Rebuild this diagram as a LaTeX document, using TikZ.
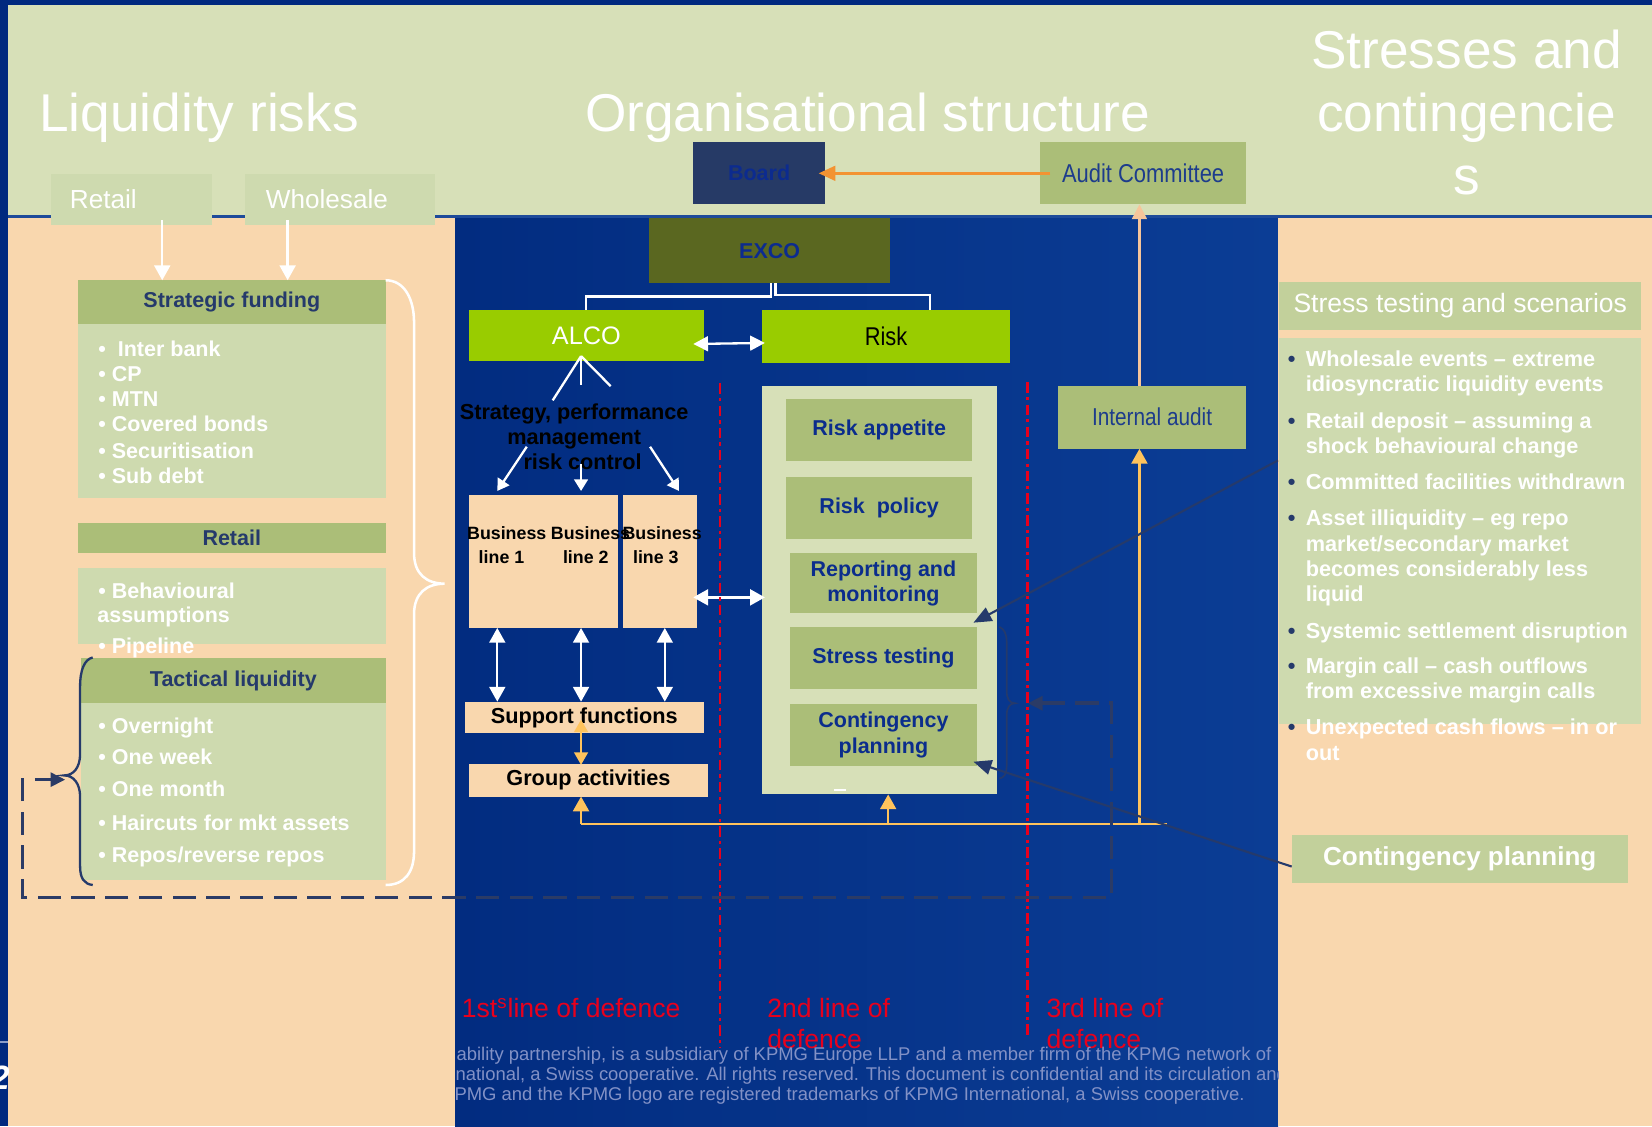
\documentclass[tikz,border=0pt]{standalone}
\usepackage{fontspec}
\setmainfont{Liberation Sans}
\newfontfamily\condf[FakeStretch=0.85]{Liberation Sans}
\usetikzlibrary{arrows.meta,calc}
\definecolor{frameblue}{HTML}{00297F}
\definecolor{midL}{HTML}{022C80}
\definecolor{midR}{HTML}{0B3D95}
\definecolor{sepblue}{HTML}{1E4B9A}
\definecolor{stripline}{HTML}{8A9CC8}
\definecolor{sage}{HTML}{D7E0B8}
\definecolor{sage2}{HTML}{CEDAAF}
\definecolor{sage3}{HTML}{C2D09B}
\definecolor{olivebox}{HTML}{ABBE78}
\definecolor{peach}{HTML}{F9D7AE}
\definecolor{lime}{HTML}{99CC00}
\definecolor{excoc}{HTML}{5A6720}
\definecolor{boardc}{HTML}{263A66}
\definecolor{boardtxt}{HTML}{0C2B8F}
\definecolor{actxt}{HTML}{1D3C8C}
\definecolor{navy}{HTML}{253A6B}
\definecolor{dkblue}{HTML}{0B2D8C}
\definecolor{orangeA}{HTML}{F39332}
\definecolor{yel}{HTML}{FFC35C}
\definecolor{peachline}{HTML}{F7C59A}
\definecolor{redc}{HTML}{E8001C}
\definecolor{foot}{HTML}{8291C6}
\definecolor{dashc}{HTML}{2B3B66}
\newcommand\bxn[7]{\node[box,#2, minimum width={(#5-#3)*0.5pt}, minimum height={(#6-#4)*0.5pt}] (#1) at ({(#3+#5)/2},{(#4+#6)/2}) {#7};}
\newcommand\tx[4]{\node[#2] (#1) at (#3) {#4};}
\tikzset{
  box/.style={inner sep=0pt, outer sep=0pt, align=center},
  wl/.style={draw=white, line width=1.1pt},
  wa/.style={wl, -{Triangle[length=7pt,width=7.5pt]}},
  wsa/.style={wl, -{Triangle[length=5.5pt,width=6.5pt]}},
  wda/.style={wl, {Triangle[length=7pt,width=7.5pt]}-{Triangle[length=7pt,width=7.5pt]}},
  ol/.style={draw=yel, line width=1.2pt},
  oa/.style={ol, -{Triangle[length=7pt,width=7.5pt]}},
  oda/.style={ol, {Triangle[length=6pt,width=6.5pt]}-{Triangle[length=6pt,width=6.5pt]}},
  na/.style={draw=navy, line width=1pt, -{Triangle[length=8.5pt,width=7pt]}},
  brn/.style={draw=navy, line width=1.1pt},
  dsh/.style={draw=dashc, line width=1.7pt, dash pattern=on 11pt off 5pt, {Triangle[length=7pt,width=6.5pt]}-{Triangle[length=7pt,width=6.5pt]}},
  redl/.style={draw=redc, line width=1.2pt, dash pattern=on 5pt off 2pt on 1.5pt off 2pt},
  ttl/.style={inner sep=0pt, text=white, font=\fontsize{25.25}{30}\selectfont},
  lbl/.style={inner sep=0pt, anchor=west, text=white, font=\fontsize{12.4}{14}\selectfont},
  bw/.style={inner sep=0pt, anchor=base west, text=white, font=\bfseries\fontsize{10.2}{12}\selectfont},
  bwr/.style={inner sep=0pt, anchor=base west, text=white, font=\bfseries\fontsize{10.3}{12}\selectfont},
  hdr/.style={text=navy, font=\bfseries\fontsize{10.2}{12}\selectfont},
  rsub/.style={fill=olivebox, text=dkblue, font=\bfseries\fontsize{10.2}{12}\selectfont},
  bk/.style={inner sep=0pt, text=black, font=\bfseries\fontsize{10.3}{12}\selectfont},
  bl/.style={inner sep=0pt, anchor=base west, text=black, font=\bfseries\fontsize{8.45}{10}\selectfont},
  redt/.style={inner sep=0pt, anchor=base west, text=redc, font=\fontsize{12.6}{15}\selectfont},
  ft/.style={inner sep=0pt, anchor=base west, text=foot, font=\fontsize{8.75}{10}\selectfont},
}
\begin{document}
\begin{tikzpicture}[x=0.5pt,y=-0.5pt]
\useasboundingbox (0,0) rectangle (1568,1069);
% ---------- background ----------
\fill[frameblue] (0,0) rectangle (1568,1069);
\shade[left color=midL, right color=midR] (432,206) rectangle (1213,1069);
\fill[sage] (8,5) rectangle (1568,205);
\draw[line width=1pt, draw=sepblue] (8,205.5) -- (1568,205.5);
\fill[peach] (8,207) rectangle (432,1069);
\fill[peach] (1213,207) rectangle (1568,1069);
\begin{scope}
\clip (0,975) rectangle (8,1069);
\draw[line width=0.8pt, draw=stripline] (0,989) -- (8,989);
\node[inner sep=0pt, anchor=base west, text=white, font=\bfseries\itshape\fontsize{16}{18}\selectfont] (pgno) at (-9,1034) {2};
\end{scope}
% ---------- titles ----------
\node[ttl, anchor=base west] (tLiq) at (37,125) {Liquidity risks};
\node[ttl, anchor=base west] (tOrg) at (555,125) {Organisational structure};
\node[ttl, anchor=base] (tSa) at (1392,65) {Stresses and};
\node[ttl, anchor=base] (tSb) at (1392,125) {contingencie};
\node[ttl, anchor=base] (tSc) at (1392,185) {s};
% ---------- left panel ----------
\bxn{retT}{fill=sage2}{48}{165}{201}{214}{}
\bxn{whoT}{fill=sage2}{233}{165}{413}{214}{}
\node[lbl] (retTt) at ([xshift=9pt]retT.west) {Retail};
\node[lbl] (whoTt) at ([xshift=9.5pt]whoT.west) {Wholesale};
\bxn{sfh}{fill=olivebox,hdr}{74}{266}{366}{308}{Strategic funding}
\bxn{sfb}{fill=sage2}{74}{308}{366}{473}{}
\tx{sf1}{bw}{93,338}{•\ \ Inter bank}
\tx{sf2}{bw}{93,362}{• CP}
\tx{sf3}{bw}{93,386}{• MTN}
\tx{sf4}{bw}{93,410}{• Covered bonds}
\tx{sf5}{bw}{93,435}{• Securitisation}
\tx{sf6}{bw}{93,459}{• Sub debt}
\bxn{reth}{fill=olivebox,hdr}{74}{496}{366}{525}{Retail}
\bxn{retb}{fill=sage2}{74}{539}{366}{611}{}
\tx{rb1}{bw}{93,568}{• Behavioural}
\tx{rb2}{bw}{92,591}{assumptions}
\tx{rb3}{bw}{93,620}{• Pipeline}
\bxn{tlh}{fill=olivebox,hdr}{77}{625}{366}{667}{Tactical liquidity}
\bxn{tlb}{fill=sage2}{77}{667}{366}{835}{}
\tx{tl1}{bw}{93,696}{• Overnight}
\tx{tl2}{bw}{93,726}{• One week}
\tx{tl3}{bw}{93,756}{• One month}
\tx{tl4}{bw}{93,788}{• Haircuts for mkt assets}
\tx{tl5}{bw}{93,819}{• Repos/reverse repos}
\draw[wa] ($(retT.south east)+(-47,-5)$) -- ($(sfh.north west)+(80,0)$);
\draw[wa] ($(whoT.south west)+(40,-5)$) -- ($(sfh.north west)+(199,0)$);
% white brace
\draw[wl, line width=1.2pt] (sfh.north east) .. controls (384,266) and (393,284) .. (393,306) -- (393,525) .. controls (393,545) and (405,554) .. (422,554) .. controls (405,554) and (393,563) .. (393,583) -- (393,808) .. controls (393,828) and (384,840) .. (366,840);
% navy brace left of tactical
\coordinate (tipL) at (61,736);
\draw[brn] (88,624) .. controls (80,626) and (76,636) .. (76,652) -- (76,716) .. controls (76,728) and (70,736) .. (tipL) .. controls (70,736) and (76,744) .. (76,756) -- (76,822) .. controls (76,834) and (80,839) .. (88,840);
% ---------- middle: top boxes ----------
\bxn{board}{fill=boardc, text=boardtxt, font=\bfseries\fontsize{10.2}{12}\selectfont}{658}{135}{783}{194}{Board}
\bxn{ac}{fill=olivebox, text=actxt, font=\condf\fontsize{12.25}{14}\selectfont}{987}{135}{1183}{194}{Audit Committee}
\draw[line width=1.3pt, draw=orangeA, -{Triangle[length=8pt,width=7pt]}] ([xshift=5pt]ac.west) -- ([xshift=-3pt]board.east);
\bxn{exco}{fill=excoc, text=boardtxt, font=\bfseries\fontsize{10.2}{12}\selectfont}{616}{207}{845}{269}{EXCO}
\bxn{alco}{fill=lime, text=white, font=\fontsize{12}{14}\selectfont}{445}{294}{668}{343}{ALCO}
\bxn{risk}{fill=lime, text=black, font=\condf\fontsize{12.2}{14}\selectfont}{723}{294}{959}{345}{Risk}
\draw[wl] ($(exco.south west)+(116,0)$) -- ++(0,12.5) -| ($(alco.north west)+(111,0)$);
\draw[wl] ($(exco.south west)+(120,0)$) -- ++(0,11) -| ($(risk.north west)+(160,0)$);
\draw[wl, {Triangle[length=7pt,width=7pt]}-{Triangle[length=7pt,width=7pt]}] ([xshift=-5pt,yshift=-4pt]alco.east) -- ([xshift=1.5pt,yshift=-3pt]risk.west);
% ALCO open arrow shape
\coordinate (apex) at ($(alco.south west)+(106.5,-5)$);
\draw[wl] (apex) -- (524.6,380);
\draw[wl] (apex) -- (551.5,365.5);
\draw[wl] (apex) -- (579.6,366.5);
% strategy text
\tx{st1}{bk, anchor=base}{545,398}{Strategy, performance}
\tx{st2}{bk, anchor=base}{545,422}{management}
\tx{st3}{bk, anchor=base}{553,446}{risk control}
% business lines
\bxn{bl12}{fill=peach}{445}{470}{587}{596}{}
\bxn{bl3}{fill=peach}{591}{470}{662}{596}{}
\tx{b1a}{bl}{443,512.5}{Business}
\tx{b1b}{bl}{454,535}{line 1}
\tx{b2a}{bl}{522.5,512.5}{Business}
\tx{b2b}{bl}{534,535}{line 2}
\tx{b3a}{bl}{590.5,512.5}{Business}
\tx{b3b}{bl}{600.5,535}{line 3}
\draw[wsa] (500,424) -- ($(bl12.north west)+(27,-4)$);
\draw[wsa] (551.5,440) -- ($(bl12.north west)+(106.5,-4)$);
\draw[wsa] (617,424) -- ($(bl3.north west)+(53.5,-4)$);
% support / group
\bxn{sup}{fill=peach, bk}{441}{666}{668}{696}{Support functions}
\bxn{grp}{fill=peach, bk}{445}{725}{672}{756}{Group activities}
\draw[wda] ($(bl12.south west)+(27,0)$) -- ($(sup.north west)+(31,0)$);
\draw[wda] ($(bl12.south west)+(106.5,0)$) -- ($(sup.north west)+(110.5,0)$);
\draw[wda] ($(bl3.south west)+(40,0)$) -- ($(sup.north west)+(190,0)$);
\draw[oda] ($(sup.south west)+(110.5,-13)$) -- ($(grp.north west)+(106.5,1)$);
% risk big box
\bxn{rbx}{fill=sage}{723}{366}{946}{754}{}
\bxn{ra}{rsub}{746}{379}{923}{438}{Risk appetite}
\bxn{rp}{rsub}{746}{453}{923}{512}{Risk\ \ policy}
\bxn{rm}{rsub}{750}{525}{927}{582}{Reporting and\\monitoring}
\bxn{st}{rsub}{750}{595}{927}{654}{Stress testing}
\bxn{cp}{rsub}{750}{668}{927}{727}{Contingency\\planning}
\fill[white] (792,748.5) rectangle (803,751) ;
\draw[wda] ([xshift=-2pt]bl3.east |- 0,567) -- ([xshift=1.5pt]rbx.west |- 0,567);
% internal audit
\bxn{ia}{fill=olivebox, text=actxt, font=\condf\fontsize{11.6}{14}\selectfont}{1004}{366}{1183}{426}{Internal audit}
% orange lines
\coordinate (oL) at (551.5,782);
\coordinate (oR) at (1108,782);
\draw[ol] (oL) -- (oR);
\draw[oa] (oL) -- ($(grp.south west)+(106.5,0)$);
\draw[oa] (843,782) -- ($(rbx.south west)+(120,0)$);
\draw[oa] (1081.5,782) -- ($(ia.south west)+(77.5,0)$);
\draw[draw=peachline, line width=1.2pt, -{Triangle[length=7pt,width=7pt]}] ($(ia.north west)+(77.5,0)$) -- ($(ac.south west)+(94.5,0)$);
% red lines
\draw[redl] (683.5,364) -- (683.5,995);
\draw[redl] (975,363) -- (975,982);
% navy brace right
\coordinate (tipR) at (963.5,667.5);
\draw[brn, line width=0.8pt] (948.5,595) .. controls (953,597) and (955.5,601) .. (955.5,610) -- (955.5,656) .. controls (955.5,663) and (958,667.5) .. (tipR) .. controls (958,667.5) and (955.5,672) .. (955.5,679) -- (955.5,726) .. controls (955.5,735) and (953,738) .. (948.5,739);
% dashed loop
\draw[dsh] ([xshift=6pt]tipR) -- (1055,667.5) -- (1055,852) -- (21.5,852) -- (21.5,740) -- ([xshift=0.5pt]tipL |- 0,740);
% ---------- right panel ----------
\bxn{sth}{fill=sage3, text=white, font=\fontsize{12.6}{15}\selectfont}{1214}{268}{1558}{313}{Stress testing and scenarios}
\bxn{stb}{fill=sage2}{1214}{321}{1558}{687}{}
\tx{d1}{bwr, text=navy}{1222,348}{•}
\tx{r1a}{bwr}{1239,348}{Wholesale events – extreme}
\tx{r1b}{bwr}{1239,372}{idiosyncratic liquidity events}
\tx{d2}{bwr, text=navy}{1222,406.5}{•}
\tx{r2a}{bwr}{1239,406.5}{Retail deposit – assuming a}
\tx{r2b}{bwr}{1239,430.5}{shock behavioural change}
\tx{d3}{bwr, text=navy}{1222,464.5}{•}
\tx{r3a}{bwr}{1239,464.5}{Committed facilities withdrawn}
\tx{d4}{bwr, text=navy}{1222,499}{•}
\tx{r4a}{bwr}{1239,499}{Asset illiquidity – eg repo}
\tx{r4b}{bwr}{1239,523}{market/secondary market}
\tx{r4c}{bwr}{1239,547}{becomes considerably less}
\tx{r4d}{bwr}{1239,571}{liquid}
\tx{d5}{bwr, text=navy}{1222,606}{•}
\tx{r5a}{bwr}{1239,606}{Systemic settlement disruption}
\tx{d6}{bwr, text=navy}{1222,639}{•}
\tx{r6a}{bwr}{1239,639}{Margin call – cash outflows}
\tx{r6b}{bwr}{1239,663}{from excessive margin calls}
\tx{d7}{bwr, text=navy}{1222,697.5}{•}
\tx{r7a}{bwr}{1239,697.5}{Unexpected cash flows – in or}
\tx{r7b}{bwr}{1239,721.5}{out}
\bxn{cpr}{fill=sage3, text=white, font=\bfseries\fontsize{12.35}{15}\selectfont}{1226}{793}{1545}{838}{Contingency planning}
% navy arrows
\coordinate (nS) at (1213,437);
\draw[na] (nS) -- ([xshift=-1.5pt,yshift=-4.5pt]rm.south east);
\draw[na] ([yshift=-3.5pt]cpr.west) -- ([xshift=-1.5pt,yshift=2pt]cp.south east);
% red labels
\tx{def1}{redt}{438,966}{1st\textsuperscript{s}line of defence}
\tx{def2a}{redt}{728,966}{2nd line of}
\tx{def2b}{redt}{728,995}{defence}
\tx{def3a}{redt}{993,966}{3rd line of}
\tx{def3b}{redt}{993,995}{defence}
% footer
\begin{scope}
\clip (432,985) rectangle (1213,1060);
\tx{f1}{ft}{433,1006.5}{ability partnership, is a subsidiary of KPMG Europe LLP and a member firm of the KPMG network of}
\tx{f2}{ft}{432,1025.5}{national, a Swiss cooperative. All rights reserved. This document is confidential and its circulation and use}
\tx{f3}{ft}{431,1044.5}{PMG and the KPMG logo are registered trademarks of KPMG International, a Swiss cooperative.}
\end{scope}
\end{tikzpicture}
\end{document}
